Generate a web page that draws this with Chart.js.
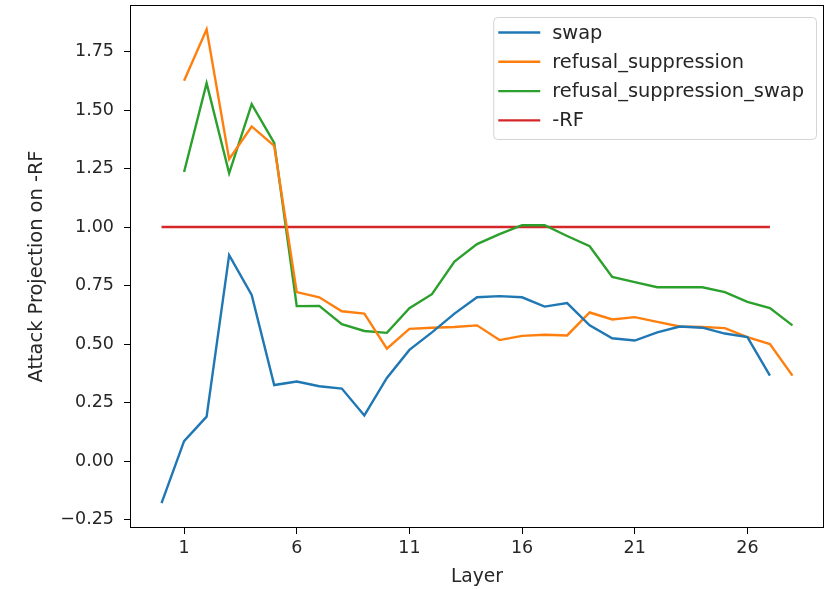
<!DOCTYPE html>
<html><head><meta charset="utf-8">
<script src="https://cdn.jsdelivr.net/npm/chart.js@4.4.0/dist/chart.umd.min.js"></script>
<style>html,body{margin:0;padding:0;background:#fff}canvas{display:block}</style>
</head><body>
<canvas id="c" width="828" height="589"></canvas>
<script>
// ---- data ----
const swapLayers = [0,1,2,3,4,5,6,7,8,9,10,11,12,13,14,15,16,17,18,19,20,21,22,23,24,25,26,27];
const swapValues = [-0.18,0.085,0.19,0.88,0.71,0.325,0.34,0.32,0.31,0.195,0.355,0.475,0.55,0.63,0.70,0.705,0.70,0.66,0.675,0.58,0.525,0.515,0.55,0.575,0.57,0.545,0.53,0.365];
const rsLayers = [1,2,3,4,5,6,7,8,9,10,11,12,13,14,15,16,17,18,19,20,21,22,23,24,25,26,27,28];
const refusalSuppressionValues = [1.625,1.845,1.29,1.43,1.347,0.722,0.70,0.64,0.63,0.48,0.565,0.57,0.573,0.58,0.517,0.535,0.54,0.537,0.635,0.605,0.615,0.595,0.575,0.573,0.568,0.53,0.50,0.365];
const refusalSuppressionSwapValues = [1.235,1.615,1.23,1.525,1.36,0.662,0.663,0.585,0.556,0.548,0.653,0.713,0.853,0.927,0.97,1.008,1.008,0.962,0.918,0.787,0.765,0.743,0.743,0.743,0.722,0.68,0.654,0.58];
const rfLayers = [0,27];
const rfValues = [1.0,1.0];
const xTickValues = [1,6,11,16,21,26];
const yTickValues = [-0.25,0,0.25,0.5,0.75,1.0,1.25,1.5,1.75];
const seriesNames = ['swap','refusal_suppression','refusal_suppression_swap','-RF'];
const seriesColors = ['#1f77b4','#ff7f0e','#2ca02c','#d62728'];

const pts = (xs, ys) => xs.map((x, i) => ({x, y: ys[i]}));
const FONT = "'DejaVu Sans', sans-serif";
const TXT = '#262626';

const frame = {
  id: 'frame',
  afterDatasetsDraw(chart) {
    const {ctx, chartArea: a} = chart;
    ctx.save();
    ctx.strokeStyle = '#000';
    ctx.lineWidth = 1;
    ctx.strokeRect(Math.round(a.left) + 0.5, Math.round(a.top) + 0.5,
      Math.round(a.right - a.left) - 1, Math.round(a.bottom - a.top) - 1);
    ctx.restore();
  }
};

const legendBox = {
  id: 'legendBox',
  afterDraw(chart) {
    const {ctx, chartArea: a} = chart;
    const ds = chart.data.datasets;
    ctx.save();
    ctx.font = '19.4px ' + FONT;
    const textW = Math.max(...ds.map(d => ctx.measureText(d.label).width));
    const w = 5 + 42 + 12 + textW + 12;
    const h = 122;
    const x0 = a.right - 8 - w;
    const y0 = a.top + 12;
    ctx.beginPath();
    ctx.roundRect(x0 + 0.5, y0 + 0.5, w, h, 4);
    ctx.fillStyle = 'rgba(255,255,255,0.8)';
    ctx.fill();
    ctx.strokeStyle = '#d4d4d4';
    ctx.lineWidth = 1;
    ctx.stroke();
    ds.forEach((d, i) => {
      const cy = y0 + 15.5 + i * 29.3;
      ctx.beginPath();
      ctx.moveTo(x0 + 5, cy);
      ctx.lineTo(x0 + 47, cy);
      ctx.strokeStyle = d.borderColor;
      ctx.lineWidth = 2.4;
      ctx.stroke();
      ctx.fillStyle = TXT;
      ctx.textBaseline = 'middle';
      ctx.textAlign = 'left';
      ctx.fillText(d.label, x0 + 59, cy + 1);
    });
    ctx.restore();
  }
};

const mk = (i, data) => ({
  label: seriesNames[i], data, borderColor: seriesColors[i], backgroundColor: seriesColors[i],
  borderWidth: 2.4, pointRadius: 0, tension: 0, fill: false
});

new Chart(document.getElementById('c'), {
  type: 'line',
  data: {
    datasets: [
      mk(0, pts(swapLayers, swapValues)),
      mk(1, pts(rsLayers, refusalSuppressionValues)),
      mk(2, pts(rsLayers, refusalSuppressionSwapValues)),
      mk(3, pts(rfLayers, rfValues))
    ]
  },
  options: {
    responsive: false,
    animation: false,
    devicePixelRatio: 1,
    layout: {padding: {top: 5, right: 4, left: 0, bottom: 0}},
    plugins: {legend: {display: false}, tooltip: {enabled: false}},
    scales: {
      x: {
        type: 'linear', min: -1.4, max: 29.4,
        afterBuildTicks: s => { s.ticks = xTickValues.map(v => ({value: v})); },
        afterFit: s => { s.height = 61; s.paddingLeft = 0; s.paddingRight = 0; },
        grid: {display: true, drawOnChartArea: false, drawTicks: true, tickLength: 6, color: '#000'},
        border: {display: false},
        ticks: {color: TXT, font: {family: FONT, size: 17.5}, padding: 4, maxRotation: 0, autoSkip: false,
          callback: v => String(v)},
        title: {display: true, text: 'Layer', color: TXT, font: {family: FONT, size: 18.7}, padding: {top: 0, bottom: 1}}
      },
      y: {
        type: 'linear', min: -0.286, max: 1.949,
        afterBuildTicks: s => { s.ticks = yTickValues.map(v => ({value: v})); },
        afterFit: s => { s.width = 130; s.paddingTop = 0; s.paddingBottom = 0; },
        grid: {display: true, drawOnChartArea: false, drawTicks: true, tickLength: 6, color: '#000'},
        border: {display: false},
        ticks: {color: TXT, font: {family: FONT, size: 17.5}, padding: 10, autoSkip: false,
          callback: v => v.toFixed(2).replace('-', '\u2212')},
        title: {display: true, text: 'Attack Projection on -RF', color: TXT, font: {family: FONT, size: 19.4}, padding: {top: 25, bottom: 0}}
      }
    }
  },
  plugins: [frame, legendBox]
});
</script>
</body></html>
